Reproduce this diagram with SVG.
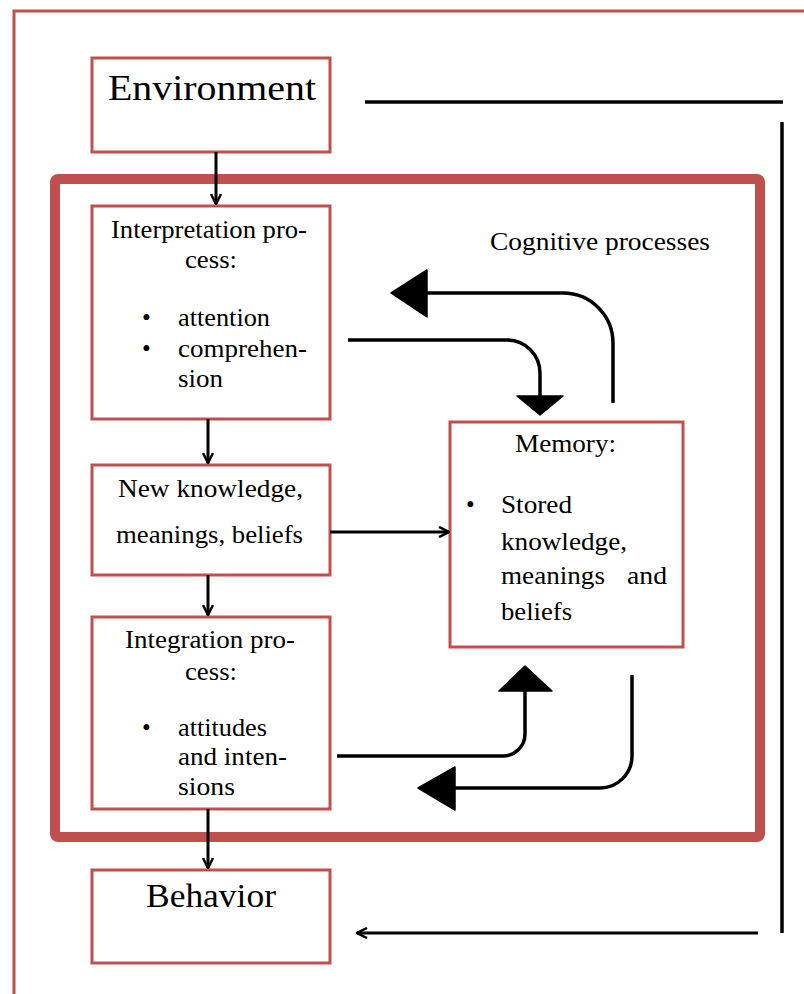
<svg xmlns="http://www.w3.org/2000/svg" width="804" height="994" viewBox="0 0 804 994">
<style>
.box{fill:#fff;stroke:#c0504d;stroke-width:3}
.frame{fill:none;stroke:#c0504d;stroke-width:3}
.thick{fill:none;stroke:#c0504d;stroke-width:10}
.ln{fill:none;stroke:#000;stroke-width:3.5}
.ar{fill:none;stroke:#000;stroke-width:3;marker-end:url(#open)}
.tri{fill:#000;stroke:#000;stroke-width:1.5;stroke-linejoin:round}
text{font-family:"Liberation Serif","Times New Roman",serif;fill:#000}
.t{font-size:25px}
.big{font-size:36px}
</style>
<defs>
<marker id="open" viewBox="0 0 12 12" refX="11" refY="6" markerWidth="12" markerHeight="12" markerUnits="userSpaceOnUse" orient="auto">
<path d="M1,1 L11,6 L1,11" fill="none" stroke="#000" stroke-width="2.5"/>
</marker>
</defs>
<rect class="frame" x="14" y="11" width="820" height="1010"/>
<rect class="thick" x="55" y="179" width="705" height="658" rx="3"/>
<text class="t" x="490" y="250" textLength="220" lengthAdjust="spacingAndGlyphs">Cognitive processes</text>

<g id="environment">
<rect class="box" x="92" y="58" width="238" height="94"/>
<text class="big" x="108" y="100" textLength="208" lengthAdjust="spacingAndGlyphs">Environment</text>
</g>
<g id="interpretation">
<rect class="box" x="92" y="206" width="238" height="213"/>
<text class="t" x="111" y="238" textLength="196" lengthAdjust="spacingAndGlyphs">Interpretation pro-</text>
<text class="t" x="185" y="268" textLength="52" lengthAdjust="spacingAndGlyphs">cess:</text>
<text class="t" x="142" y="326">•</text>
<text class="t" x="178" y="326" textLength="92" lengthAdjust="spacingAndGlyphs">attention</text>
<text class="t" x="142" y="357">•</text>
<text class="t" x="178" y="357" textLength="129" lengthAdjust="spacingAndGlyphs">comprehen-</text>
<text class="t" x="178" y="387" textLength="45" lengthAdjust="spacingAndGlyphs">sion</text>
</g>
<g id="new-knowledge">
<rect class="box" x="92" y="465" width="238" height="110"/>
<text class="t" x="118" y="497" textLength="185" lengthAdjust="spacingAndGlyphs">New knowledge,</text>
<text class="t" x="116" y="543" textLength="187" lengthAdjust="spacingAndGlyphs">meanings, beliefs</text>
</g>
<g id="integration">
<rect class="box" x="92" y="617" width="238" height="192"/>
<text class="t" x="125" y="648" textLength="170" lengthAdjust="spacingAndGlyphs">Integration pro-</text>
<text class="t" x="185" y="680" textLength="52" lengthAdjust="spacingAndGlyphs">cess:</text>
<text class="t" x="142" y="736">•</text>
<text class="t" x="178" y="736" textLength="89" lengthAdjust="spacingAndGlyphs">attitudes</text>
<text class="t" x="178" y="765" textLength="109" lengthAdjust="spacingAndGlyphs">and inten-</text>
<text class="t" x="178" y="795" textLength="57" lengthAdjust="spacingAndGlyphs">sions</text>
</g>
<g id="behavior">
<rect class="box" x="92" y="870" width="238" height="93"/>
<text class="big" x="146" y="907" font-size="34" style="font-size:34px" textLength="130" lengthAdjust="spacingAndGlyphs">Behavior</text>
</g>
<g id="memory">
<rect class="box" x="450" y="422" width="233" height="225"/>
<text class="t" x="515" y="452" textLength="101" lengthAdjust="spacingAndGlyphs">Memory:</text>
<text class="t" x="466" y="513">•</text>
<text class="t" x="501" y="513" textLength="71" lengthAdjust="spacingAndGlyphs">Stored</text>
<text class="t" x="501" y="550" textLength="126" lengthAdjust="spacingAndGlyphs">knowledge,</text>
<text class="t" x="501" y="584" textLength="104" lengthAdjust="spacingAndGlyphs">meanings</text>
<text class="t" x="627" y="584" textLength="40" lengthAdjust="spacingAndGlyphs">and</text>
<text class="t" x="501" y="620" textLength="71" lengthAdjust="spacingAndGlyphs">beliefs</text>
</g>

<g id="connectors">
<line class="ar" x1="216" y1="152" x2="216" y2="204"/>
<line class="ar" x1="208" y1="419" x2="208" y2="463"/>
<line class="ar" x1="208" y1="575" x2="208" y2="615"/>
<line class="ar" x1="208" y1="809" x2="208" y2="868"/>
<line class="ar" x1="330" y1="532" x2="449" y2="532"/>
<line class="ln" x1="365" y1="102" x2="783" y2="102"/>
<line class="ln" x1="782" y1="122" x2="782" y2="933"/>
<line class="ar" x1="758" y1="933" x2="357" y2="933"/>
<path class="ln" d="M348,340 H507 A33,33 0 0 1 540,373 V398"/>
<polygon class="tri" points="517,396 563,396 540,415"/>
<path class="ln" d="M613,403 V343 A50,50 0 0 0 563,293 H425"/>
<polygon class="tri" points="427,270 427,317 391,293"/>
<path class="ln" d="M337,756 H503 A22,22 0 0 0 525,734 V690"/>
<polygon class="tri" points="499,691 552,691 525,666"/>
<path class="ln" d="M632,675 V756 A32,32 0 0 1 600,788 H453"/>
<polygon class="tri" points="455,767 455,810 418,788"/>
</g>
</svg>
